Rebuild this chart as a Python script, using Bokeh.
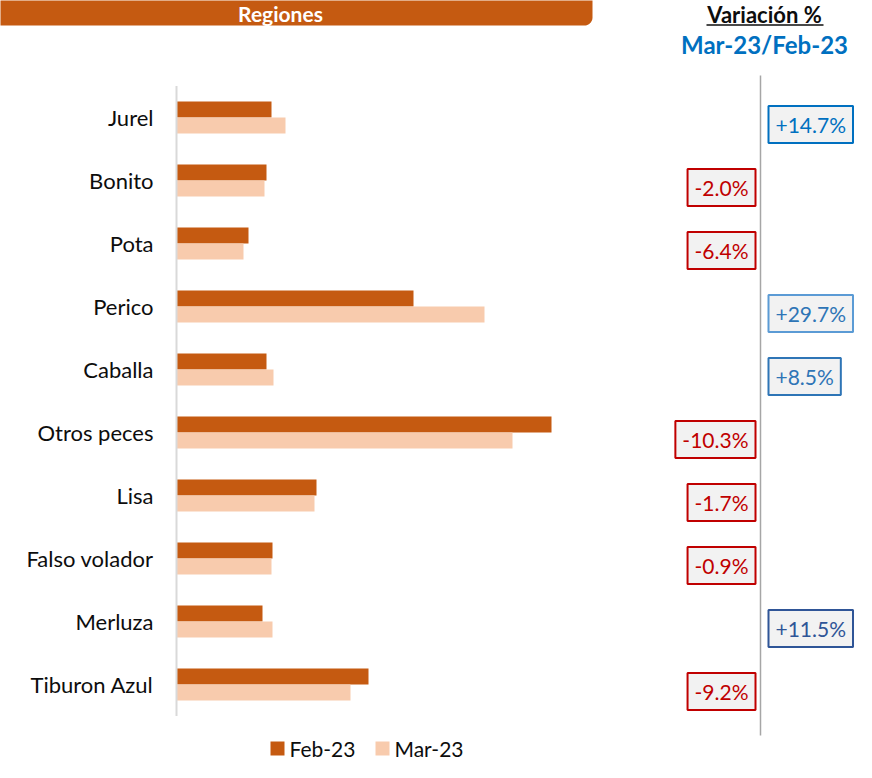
import numpy as np
from bokeh.plotting import figure
from bokeh.models import Range1d, LinearAxis, FixedTicker, ColumnDataSource
from bokeh.transform import dodge
from bokeh.core.properties import value
from bokeh.embed import file_html
from bokeh.resources import INLINE

# ---------------- data ----------------
title_text = "Regiones"
var_title = "Variación %"
var_period = "Mar-23/Feb-23"
categories = ["Jurel", "Bonito", "Pota", "Perico", "Caballa", "Otros peces",
              "Lisa", "Falso volador", "Merluza", "Tiburon Azul"]
series = ["Feb-23", "Mar-23"]
feb_23 = [95, 90, 72, 237, 90, 375, 140, 96, 86, 192]
mar_23 = [109, 88, 67, 308, 97, 336, 138, 95, 96, 174]
variacion = [14.7, -2.0, -6.4, 29.7, 8.5, -10.3, -1.7, -0.9, 11.5, -9.2]

# ---------------- styles ----------------
FEB_COLOR = "#C55A11"
MAR_COLOR = "#F8CBAD"
NEG_COLOR = "#C00000"
pos_text_colors = {"Jurel": "#0070C0", "Perico": "#2E75B6", "Caballa": "#2E75B6", "Merluza": "#2F5597"}
pos_border_colors = {"Jurel": "#0070C0", "Perico": "#5B9BD5", "Caballa": "#2E75B6", "Merluza": "#2F5597"}
FONT = "Lato"

W, H = 856, 762
AXIS_X = 176
ROW0 = 117
PITCH = 63
DIV_X = 760          # divider of the variation column

p = figure(width=W, height=H,
           x_range=Range1d(-AXIS_X, W - AXIS_X),
           y_range=Range1d(start=(H - ROW0) / PITCH, end=-ROW0 / PITCH),
           x_axis_location=None, y_axis_location=None,
           output_backend="svg", toolbar_location=None, min_border=0,
           outline_line_color=None, background_fill_color="white",
           border_fill_color="white")
p.grid.visible = False
p.extra_x_ranges = {"px": Range1d(0, W)}
p.extra_y_ranges = {"px": Range1d(H, 0)}

idx = list(range(len(categories)))
src = ColumnDataSource(dict(idx=idx, cat=categories, feb=feb_23, mar=mar_23))

BAR_H = 16 / PITCH
p.hbar(y=dodge("idx", -BAR_H / 2), left=0, right="feb", height=BAR_H, source=src,
       fill_color=FEB_COLOR, line_color=None)
p.hbar(y=dodge("idx", BAR_H / 2), left=0, right="mar", height=BAR_H, source=src,
       fill_color=MAR_COLOR, line_color=None)

# category axis line
p.segment(x0=0, x1=0, y0=-0.5, y1=len(categories) - 0.5, line_color="#D9D9D9", line_width=2)

ax = LinearAxis(fixed_location=0, ticker=FixedTicker(ticks=idx),
                major_label_overrides={i: c for i, c in enumerate(categories)},
                axis_line_color=None, major_tick_line_color=None, minor_tick_line_color=None,
                major_tick_in=0, major_tick_out=0, major_label_standoff=23,
                major_label_text_font=FONT, major_label_text_font_size="22px",
                major_label_text_color="#0D0D0D")
p.add_layout(ax, "left")

# divider line for variation column
p.segment(x0=DIV_X, x1=DIV_X, y0=75, y1=735, x_range_name="px", y_range_name="px",
          line_color="#A6A6A6", line_width=1.5)

# variation boxes
labels = [f"{v:+.1f}%" for v in variacion]
pos = [i for i, v in enumerate(variacion) if v > 0]
neg = [i for i, v in enumerate(variacion) if v <= 0]
pos_src = ColumnDataSource(dict(
    idx=[idx[i] for i in pos], label=[labels[i] for i in pos],
    col=[pos_text_colors[categories[i]] for i in pos],
    bcol=[pos_border_colors[categories[i]] for i in pos]))
neg_src = ColumnDataSource(dict(
    idx=[idx[i] for i in neg], label=[labels[i] for i in neg]))

BOX_OFF = 7 / PITCH
common = dict(text_baseline="middle", text_font=value(FONT), text_font_size="21px",
              background_fill_color="#F2F2F2", border_line_width=2,
              padding=dict(left=7, right=7, top=6, bottom=6), x_range_name="px")
p.text(x=DIV_X + 8, y=dodge("idx", BOX_OFF), text="label", source=pos_src, text_align="left",
       text_color="col", border_line_color="bcol", **common)
p.text(x=DIV_X - 5, y=dodge("idx", BOX_OFF), text="label", source=neg_src, text_align="right",
       text_color=NEG_COLOR, border_line_color=NEG_COLOR, **common)

# header band
r = 8
th = np.linspace(0, np.pi / 2, 12)
hx = [-10, 592] + list(592 - r + r * np.cos(th)) + [-10]
hy = [-10, -10] + list(25 - r + r * np.sin(th)) + [25]
p.patch(hx, hy, x_range_name="px", y_range_name="px", fill_color=FEB_COLOR, line_color=None)
p.text(x=[280], y=[12.5], text=[title_text], x_range_name="px", y_range_name="px",
       text_align="center", text_baseline="middle", text_font=value(FONT),
       text_font_style="bold", text_font_size="21px", text_color="white")

# variation titles
p.text(x=[DIV_X + 4], y=[14], text=[var_title], x_range_name="px", y_range_name="px",
       text_align="center", text_baseline="middle", text_font=value(FONT),
       text_font_style="bold", text_font_size="22px", text_color="#0D0D0D")
p.segment(x0=DIV_X - 54, x1=DIV_X + 63, y0=24.5, y1=24.5, x_range_name="px", y_range_name="px",
          line_color="#0D0D0D", line_width=1.5)
p.text(x=[DIV_X + 4], y=[44], text=[var_period], x_range_name="px", y_range_name="px",
       text_align="center", text_baseline="middle", text_font=value(FONT),
       text_font_style="bold", text_font_size="24px", text_color="#0070C0")

# legend
leg_x = [270, 375]
for lx, name, col in zip(leg_x, series, [FEB_COLOR, MAR_COLOR]):
    p.quad(left=lx, right=lx + 14, top=741, bottom=755, x_range_name="px", y_range_name="px",
           fill_color=col, line_color=None)
    p.text(x=[lx + 19], y=[747.5], text=[name], x_range_name="px", y_range_name="px",
           text_align="left", text_baseline="middle", text_font=value(FONT),
           text_font_size="21px", text_color="#0D0D0D")

open("out.html", "w").write(file_html(p, INLINE))
